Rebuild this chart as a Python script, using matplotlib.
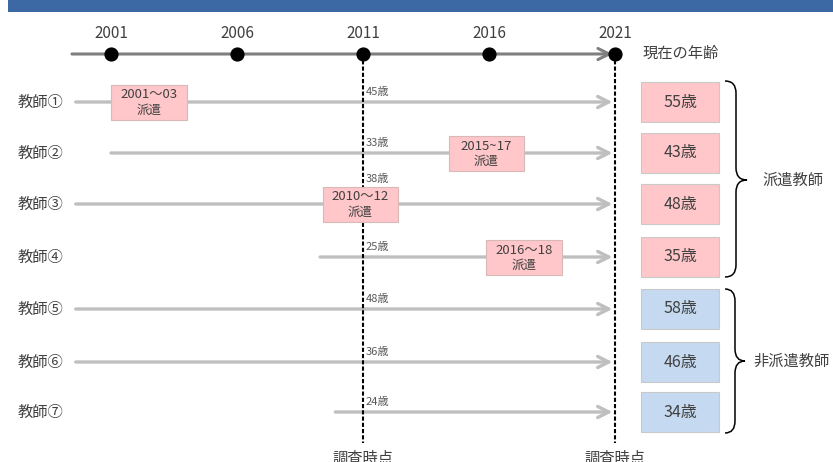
import numpy as np
import matplotlib
matplotlib.use("Agg")
from matplotlib import pyplot as plt
from matplotlib import transforms
from matplotlib.patches import Rectangle, PathPatch
from matplotlib.path import Path

plt.rcParams['font.family'] = ['Noto Sans CJK JP', 'DejaVu Sans']

# data
years = [2001, 2006, 2011, 2016, 2021]
teachers = ["教師①", "教師②", "教師③", "教師④", "教師⑤", "教師⑥", "教師⑦"]
start_year = [1999.6, 2001.0, 1999.6, 2009.3, 1999.6, 1999.6, 2009.9]
age_2011 = [45, 33, 38, 25, 48, 36, 24]
age_now = [55, 43, 48, 35, 58, 46, 34]
dispatched = [True, True, True, True, False, False, False]
disp_teacher = [0, 1, 2, 3]
disp_label = ["2001～03", "2015~17", "2010～12", "2016～18"]
disp_center = [2002.5, 2015.9, 2010.9, 2017.4]
survey_years = [2011, 2021]

# layout (pixels, figure is 833x462)
W, H = 833, 462
px_per_year = 25.2
x0_px = 111  # where 2001 sits
row_y = [102, 153, 204, 257, 309, 362, 412]
tl_y = 54

fig = plt.figure(figsize=(8.33, 4.62), dpi=100)
ax = fig.add_axes([0, 0, 1, 1])
ax.set_xlim(2001 - x0_px / px_per_year, 2001 + (W - x0_px) / px_per_year)
ax.set_ylim(H, 0)
ax.axis("off")
bt = transforms.blended_transform_factory(ax.transAxes, ax.transData)

grey_txt = "#404040"

# top banner
ax.add_patch(Rectangle((8 / W, 0), 1, 12, transform=bt, color="#3c68a4", lw=0))

# time axis
ax.annotate("", xy=(2020.9, tl_y), xytext=(1999.45, tl_y),
            arrowprops=dict(arrowstyle="->,head_length=0.8,head_width=0.4",
                            color="#7f7f7f", lw=2.2, shrinkA=0, shrinkB=0))
ax.scatter(years, [tl_y] * len(years), s=85, color="black", zorder=5)
for y in years:
    ax.text(y, 33, str(y), ha="center", va="center", fontsize=11, color=grey_txt)

# survey lines
for y in survey_years:
    ax.plot([y, y], [tl_y, 443], color="black", lw=1.5, ls=(0, (2, 1)), zorder=4)
    ax.text(y, 458, "調査時点", ha="center", va="center", fontsize=11, color=grey_txt)

ax.text(643 / W, 53, "現在の年齢", transform=bt, ha="left", va="center",
        fontsize=11, color=grey_txt)

# teacher rows
for i, name in enumerate(teachers):
    yy = row_y[i]
    ax.text(18 / W, yy, name, transform=bt, ha="left", va="center",
            fontsize=11, color=grey_txt)
    ax.annotate("", xy=(2020.9, yy), xytext=(start_year[i], yy),
                arrowprops=dict(arrowstyle="->,head_length=0.8,head_width=0.4",
                                color="#bfbfbf", lw=2.4, shrinkA=0, shrinkB=0),
                zorder=2)
    fc = "#ffc7ca" if dispatched[i] else "#c5d9f0"
    ax.add_patch(Rectangle((641 / W, yy - 20), 78 / W, 40, transform=bt,
                           facecolor=fc, edgecolor="#c9c9c9", lw=0.8))
    ax.text(680 / W, yy, f"{age_now[i]}歳", transform=bt, ha="center", va="center",
            fontsize=11.5, color=grey_txt)
    ly = yy - 25 if i == 2 else yy - 10
    ax.text(2011.1, ly, f"{age_2011[i]}歳", ha="left", va="center",
            fontsize=8, color="#595959", zorder=6)

# dispatch boxes
for k, i in enumerate(disp_teacher):
    yy = row_y[i]
    ax.add_patch(Rectangle((disp_center[k] - 1.5, yy - 17.5), 3.0, 35,
                           facecolor="#ffc7ca", edgecolor="#d9b8b8", lw=0.8, zorder=5))
    ax.text(disp_center[k], yy - 7, disp_label[k], ha="center", va="center",
            fontsize=9.5, color=grey_txt, zorder=6)
    ax.text(disp_center[k], yy + 8, "派遣", ha="center", va="center",
            fontsize=9, color=grey_txt, zorder=6)


def brace(xl, xt, y0, y1, ym):
    xm = (xl + xt) / 2
    r = 12
    verts = [(xl, y0), (xm, y0), (xm, y0 + r),
             (xm, ym - r), (xm, ym), (xt, ym),
             (xm, ym), (xm, ym + r),
             (xm, y1 - r), (xm, y1), (xl, y1)]
    codes = [Path.MOVETO, Path.CURVE3, Path.CURVE3,
             Path.LINETO, Path.CURVE3, Path.CURVE3,
             Path.CURVE3, Path.CURVE3,
             Path.LINETO, Path.CURVE3, Path.CURVE3]
    verts = [(x / W, y) for x, y in verts]
    ax.add_patch(PathPatch(Path(verts, codes), transform=bt, fill=False,
                           edgecolor="black", lw=1.1))


brace(725, 747, 81, 277, 180)
brace(725, 745, 289, 433, 361)
ax.text(762 / W, 180, "派遣教師", transform=bt, ha="left", va="center",
        fontsize=11, color=grey_txt)
ax.text(753 / W, 361, "非派遣教師", transform=bt, ha="left", va="center",
        fontsize=11, color=grey_txt)

fig.savefig("out.png", dpi=100)
